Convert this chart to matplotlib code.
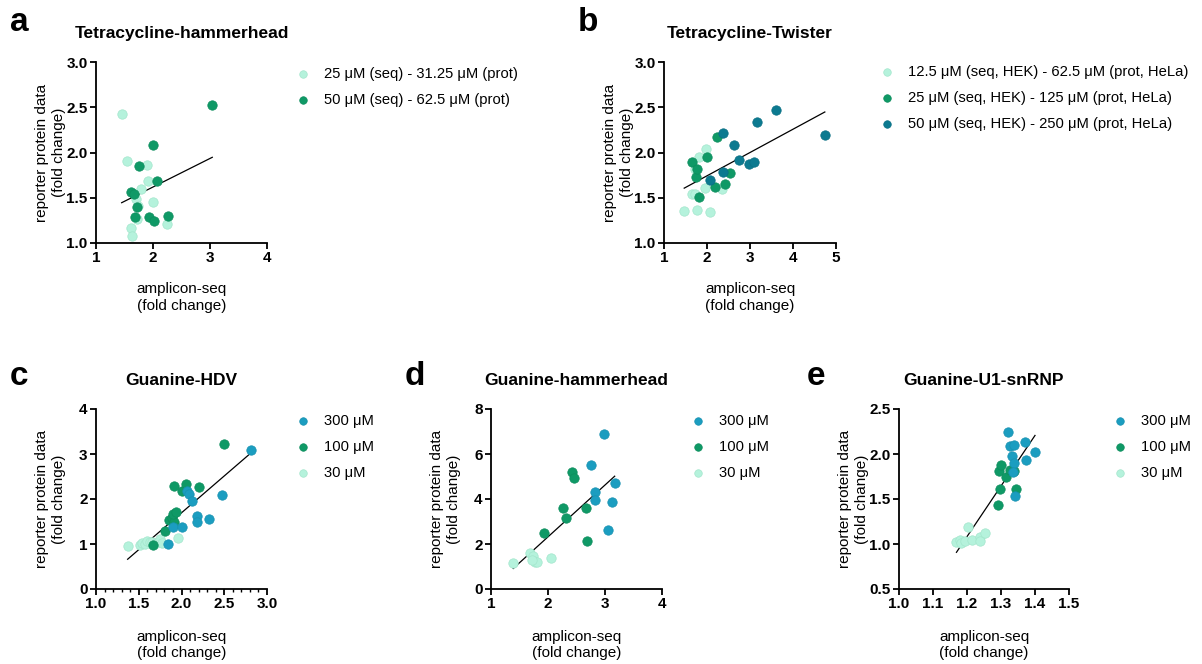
import numpy as np
import matplotlib
matplotlib.use('Agg')
import matplotlib.pyplot as plt
from matplotlib.ticker import MultipleLocator

plt.rcParams['font.family'] = ['Liberation Sans', 'DejaVu Sans']

light = '#b5f2dc'
green = '#0f9966'
teal = '#0c7a90'
blue = '#1b9dc0'

# panel a: Tetracycline-hammerhead
a_lo_x = [1.45, 1.54, 1.89, 1.92, 1.79, 1.71, 1.74, 2.00, 1.72, 1.61, 1.63, 2.25]
a_lo_y = [2.42, 1.91, 1.86, 1.68, 1.60, 1.49, 1.41, 1.45, 1.26, 1.17, 1.08, 1.21]
a_hi_x = [3.04, 2.00, 1.75, 2.07, 1.62, 1.67, 1.72, 1.68, 1.93, 2.02, 2.27]
a_hi_y = [2.52, 2.08, 1.85, 1.68, 1.56, 1.54, 1.40, 1.29, 1.29, 1.24, 1.30]
a_labels = ['25 μM (seq) - 31.25 μM (prot)', '50 μM (seq) - 62.5 μM (prot)']

# panel b: Tetracycline-Twister
b_lo_x = [1.47, 1.76, 2.07, 1.64, 1.71, 1.95, 2.35, 1.72, 1.82, 1.98]
b_lo_y = [1.35, 1.37, 1.34, 1.54, 1.54, 1.61, 1.60, 1.82, 1.95, 2.04]
b_mid_x = [1.64, 1.74, 1.76, 1.81, 2.01, 2.24, 2.18, 2.43, 2.53]
b_mid_y = [1.89, 1.73, 1.82, 1.51, 1.95, 2.17, 1.62, 1.65, 1.77]
b_hi_x = [2.37, 2.62, 2.06, 2.37, 2.74, 2.98, 3.09, 3.16, 3.60, 4.74]
b_hi_y = [2.22, 2.08, 1.70, 1.78, 1.92, 1.87, 1.89, 2.34, 2.47, 2.19]
b_labels = ['12.5 μM (seq, HEK) - 62.5 μM (prot, HeLa)',
            '25 μM (seq, HEK) - 125 μM (prot, HeLa)',
            '50 μM (seq, HEK) - 250 μM (prot, HeLa)']

# panel c: Guanine-HDV
c_30_x = [1.37, 1.51, 1.54, 1.57, 1.60, 1.63, 1.66, 1.70, 1.75, 1.77, 1.96]
c_30_y = [0.96, 0.97, 1.02, 1.00, 1.06, 1.04, 1.05, 1.03, 1.12, 1.02, 1.13]
c_100_x = [1.67, 1.81, 1.85, 1.89, 1.91, 1.90, 1.93, 1.91, 2.01, 2.05, 2.21, 2.50]
c_100_y = [0.97, 1.29, 1.53, 1.57, 1.50, 1.66, 1.72, 2.29, 2.18, 2.34, 2.27, 3.22]
c_300_x = [1.84, 1.90, 2.01, 2.06, 2.09, 2.12, 2.18, 2.18, 2.32, 2.47, 2.81]
c_300_y = [1.00, 1.38, 1.37, 2.17, 2.11, 1.96, 1.63, 1.49, 1.55, 2.09, 3.08]

# panel d: Guanine-hammerhead
d_30_x = [1.39, 1.68, 1.74, 1.77, 1.80, 2.06, 1.72]
d_30_y = [1.15, 1.62, 1.45, 1.22, 1.20, 1.40, 1.30]
d_100_x = [1.93, 2.27, 2.32, 2.42, 2.45, 2.66, 2.69]
d_100_y = [2.47, 3.59, 3.15, 5.19, 4.92, 3.62, 2.14]
d_300_x = [2.76, 2.83, 2.83, 2.98, 3.05, 3.12, 3.17]
d_300_y = [5.53, 4.30, 3.96, 6.89, 2.63, 3.86, 4.69]

# panel e: Guanine-U1-snRNP
e_30_x = [1.169, 1.178, 1.183, 1.193, 1.203, 1.216, 1.237, 1.239, 1.252]
e_30_y = [1.02, 1.04, 1.01, 1.03, 1.19, 1.05, 1.08, 1.03, 1.12]
e_100_x = [1.292, 1.298, 1.294, 1.299, 1.316, 1.327, 1.337, 1.345]
e_100_y = [1.43, 1.61, 1.81, 1.88, 1.75, 1.82, 1.81, 1.61]
e_300_x = [1.322, 1.327, 1.337, 1.332, 1.338, 1.335, 1.342, 1.372, 1.373, 1.400]
e_300_y = [2.25, 2.09, 2.10, 1.98, 1.90, 1.80, 1.53, 2.13, 1.93, 2.02]

conc_labels = ['300 μM', '100 μM', '30 μM']

W, H = 1202, 664
fig = plt.figure(figsize=(W / 100, H / 100), dpi=100)


def place(left, top, right, bottom):
    return fig.add_axes([left / W, 1 - bottom / H, (right - left) / W, (bottom - top) / H])


def style(ax, xlim, ylim, xstep, ystep, title, bottom_row):
    ax.set_xlim(*xlim)
    ax.set_ylim(*ylim)
    ax.xaxis.set_major_locator(MultipleLocator(xstep))
    ax.yaxis.set_major_locator(MultipleLocator(ystep))
    for s in ['top', 'right']:
        ax.spines[s].set_visible(False)
    for s in ['left', 'bottom']:
        ax.spines[s].set_linewidth(1.3)
    ax.tick_params(length=4, width=1.3, labelsize=11, pad=2)
    for lab in ax.get_xticklabels() + ax.get_yticklabels():
        lab.set_fontweight('bold')
    ax.set_title(title, fontsize=12.5, fontweight='bold', pad=17)
    ax.set_ylabel('reporter protein data\n(fold change)', fontsize=11, linespacing=1.25)
    ax.set_xlabel('amplicon-seq\n(fold change)', fontsize=11, linespacing=1.25)
    ax.yaxis.set_label_coords(-0.175, 0.5)
    ax.xaxis.set_label_coords(0.5, -0.215 if not bottom_row else -0.225)


def fit(ax, xs, ys):
    x = np.concatenate([np.asarray(v) for v in xs])
    y = np.concatenate([np.asarray(v) for v in ys])
    k, b = np.polyfit(x, y, 1)
    xx = np.array([x.min(), x.max()])
    ax.plot(xx, k * xx + b, color='black', lw=0.9, zorder=2)


def dots(ax, x, y, c, label=None):
    edge = {light: '#a3e6cc', green: '#0d8d5d', teal: '#0a6f83', blue: '#1891b0'}[c]
    return ax.scatter(x, y, s=46, color=c, edgecolor=edge, linewidth=0.5,
                      zorder=3, label=label, clip_on=False)


def legend(ax, handles, labels, x, y):
    ax.legend(handles, labels, loc='upper left', bbox_to_anchor=(x / W, 1 - y / H),
              bbox_transform=fig.transFigure, frameon=False, fontsize=10.6,
              handlelength=0.7, handletextpad=1.05, labelspacing=0.8,
              borderpad=0, borderaxespad=0, scatterpoints=1, markerscale=0.8)


# a
ax = place(96, 62, 267, 243)
h1 = dots(ax, a_lo_x, a_lo_y, light)
h2 = dots(ax, a_hi_x, a_hi_y, green)
fit(ax, [a_lo_x, a_hi_x], [a_lo_y, a_hi_y])
style(ax, (1, 4), (1, 3), 1, 0.5, 'Tetracycline-hammerhead', False)
ax.yaxis.set_major_formatter('{x:.1f}')
legend(ax, [h1, h2], a_labels, 298, 67)

# b
ax = place(664, 62, 836, 243)
h1 = dots(ax, b_lo_x, b_lo_y, light)
h2 = dots(ax, b_mid_x, b_mid_y, green)
h3 = dots(ax, b_hi_x, b_hi_y, teal)
fit(ax, [b_lo_x, b_mid_x, b_hi_x], [b_lo_y, b_mid_y, b_hi_y])
style(ax, (1, 5), (1, 3), 1, 0.5, 'Tetracycline-Twister', False)
ax.yaxis.set_major_formatter('{x:.1f}')
legend(ax, [h1, h2, h3], b_labels, 882, 65)

# c
ax = place(96, 409, 267, 589)
h30 = dots(ax, c_30_x, c_30_y, light)
h100 = dots(ax, c_100_x, c_100_y, green)
h300 = dots(ax, c_300_x, c_300_y, blue)
fit(ax, [c_30_x, c_100_x, c_300_x], [c_30_y, c_100_y, c_300_y])
style(ax, (1, 3), (0, 4), 0.5, 1, 'Guanine-HDV', True)
ax.xaxis.set_major_formatter('{x:.1f}')
ax.xaxis.set_minor_locator(MultipleLocator(0.1))
ax.tick_params(which='minor', length=2.5, width=1.0)
legend(ax, [h300, h100, h30], conc_labels, 298, 414)

# d
ax = place(491, 409, 662, 589)
h30 = dots(ax, d_30_x, d_30_y, light)
h100 = dots(ax, d_100_x, d_100_y, green)
h300 = dots(ax, d_300_x, d_300_y, blue)
fit(ax, [d_30_x, d_100_x, d_300_x], [d_30_y, d_100_y, d_300_y])
style(ax, (1, 4), (0, 8), 1, 2, 'Guanine-hammerhead', True)
legend(ax, [h300, h100, h30], conc_labels, 693, 414)

# e
ax = place(899, 409, 1069, 589)
h30 = dots(ax, e_30_x, e_30_y, light)
h100 = dots(ax, e_100_x, e_100_y, green)
h300 = dots(ax, e_300_x, e_300_y, blue)
fit(ax, [e_30_x, e_100_x, e_300_x], [e_30_y, e_100_y, e_300_y])
style(ax, (1.0, 1.5), (0.5, 2.5), 0.1, 0.5, 'Guanine-U1-snRNP', True)
ax.xaxis.set_major_formatter('{x:.1f}')
ax.yaxis.set_major_formatter('{x:.1f}')
legend(ax, [h300, h100, h30], conc_labels, 1115, 414)

for letter, px, py in [('a', 10, 31), ('b', 578, 31), ('c', 10, 385), ('d', 405, 385), ('e', 807, 385)]:
    fig.text(px / W, 1 - py / H, letter, fontsize=24, fontweight='bold', va='baseline')

fig.savefig('out.png', dpi=100)
